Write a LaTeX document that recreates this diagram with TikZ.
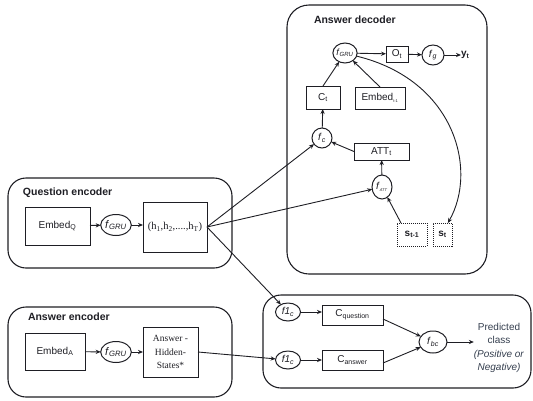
\documentclass[tikz,border=0pt]{standalone}
\usepackage{fontspec}
\setmainfont{Liberation Sans}
\newfontfamily\serifface{Liberation Serif}
\usetikzlibrary{shapes.geometric,arrows.meta}
\definecolor{ink}{RGB}{30,30,36}
\definecolor{slate}{RGB}{52,62,78}

\begin{document}
\begin{tikzpicture}[x=1pt,y=-1pt,
  every node/.style={inner sep=0pt, outer sep=0pt, text=ink,
    font=\fontsize{10}{12}\selectfont},
  frame/.style={draw=ink, rounded corners=18pt, line width=1.1pt},
  title/.style={anchor=west, font=\fontsize{10.5}{12}\selectfont\bfseries},
  sbox/.style 2 args={draw=ink, rectangle, line width=1pt,
    minimum width=#1, minimum height=#2},
  dbox/.style 2 args={draw=ink, rectangle, dash pattern=on 1pt off 1pt,
    line width=1pt, minimum width=#1, minimum height=#2},
  fun/.style 2 args={draw=ink, ellipse, line width=1pt,
    minimum width=#1, minimum height=#2},
  conn/.style={draw=ink, line width=0.9pt, -{Stealth[length=5pt,width=4.2pt]}},
  serif/.style={font=\serifface\fontsize{10.5}{13.5}\selectfont, align=center}
]
\useasboundingbox (0,0) rectangle (533,400);

% ---------- Answer decoder ----------
\draw[frame, rounded corners=22pt] (287,5) rectangle (487,274);
\node[title] (dtitle) at (314,20) {Answer decoder};

\node[fun={22pt}{20pt}] (dgru) at (345,53)
  {\fontsize{9}{10}\selectfont\textit{f}\textsubscript{\textit{GRU}}};
\node[sbox={22pt}{16pt}] (ot) at (397,54) {O\textsubscript{t}};
\node[fun={22pt}{20pt}] (fg) at (433,55) {\textit{f}\textsubscript{\textit{g}}};
\node[anchor=west, font=\fontsize{10}{12}\selectfont\bfseries] (yt) at (461,55)
  {y\textsubscript{t}};

\node[sbox={34pt}{23pt}] (ct) at (323,97.5) {C\textsubscript{t}};
\node[sbox={50pt}{22pt}] (emb) at (380,98)
  {Embed\textsubscript{\fontsize{4}{4}\selectfont t-1}};

\node[fun={20pt}{20pt}] (fc) at (322,138) {\textit{f}\textsubscript{\textit{c}}};
\node[sbox={55pt}{17pt}] (att) at (381.5,151.5) {ATT\textsubscript{t}};
\node[fun={20pt}{24pt}] (fatt) at (382,187)
  {\textit{f}\textsubscript{\fontsize{4}{4}\selectfont\textit{ATT}}};

\node[dbox={30pt}{23pt}, font=\fontsize{10}{12}\selectfont\bfseries] (stm) at (412,234.5)
  {s\textsubscript{t-1}};
\node[dbox={19pt}{23pt}, font=\fontsize{10}{12}\selectfont\bfseries] (st) at (442.5,234.5)
  {s\textsubscript{t}};

\draw[conn] (dgru) -- (ot);
\draw[conn] (ot) -- (fg);
\draw[conn] (fg) -- (yt);
\draw[conn] (ct.north) -- (dgru);
\draw[conn] (emb.north) -- (dgru);
\draw[conn] (fc) -- (ct);
\draw[conn] (att.west) -- (fc);
\draw[conn] (fatt) -- (att);
\draw[conn] (stm.north west) ++(4,0) coordinate (stmtop) (stmtop) -- (fatt);
\draw[conn] (dgru.-15) .. controls (455,80) and (478,170) .. (st.65);

% ---------- Question encoder ----------
\draw[frame] (8,178) rectangle (232,268);
\node[title] (qtitle) at (23,193) {Question encoder};
\node[sbox={65pt}{38pt}] (embq) at (57.5,226) {Embed\textsubscript{Q}};
\node[fun={29pt}{21pt}] (qgru) at (116,225)
  {\fontsize{11}{12}\selectfont\textit{f}\textsubscript{\textit{GRU}}};
\node[sbox={64pt}{50pt}] (hq) at (175,227) {};
\node[serif] (htext) at (hq) {(h\textsubscript{1},h\textsubscript{2},....,h\textsubscript{T})};
\draw[conn] (embq) -- (qgru);
\draw[conn] (qgru.east) -- (qgru.east -| hq.west);

% ---------- Answer encoder ----------
\draw[frame] (8,307) rectangle (232,397);
\node[title] (atitle) at (28,317) {Answer encoder};
\node[sbox={60pt}{37pt}] (emba) at (55,351.5) {Embed\textsubscript{A}};
\node[fun={29pt}{21pt}] (agru) at (116,352)
  {\fontsize{11}{12}\selectfont\textit{f}\textsubscript{\textit{GRU}}};
\node[sbox={55pt}{50pt}, serif, font=\serifface\fontsize{9.5}{13.5}\selectfont] (ha) at (170.5,352)
  {Answer -\\Hidden-\\States*};
\draw[conn] (emba) -- (agru);
\draw[conn] (agru) -- (ha);

% ---------- Classifier ----------
\draw[frame] (263,295) rectangle (531,388);
\node[fun={25pt}{18pt}] (qf1) at (288,312) {\textit{f1}\textsubscript{\textit{c}}};
\node[fun={25pt}{18pt}] (af1) at (288,360) {\textit{f1}\textsubscript{\textit{c}}};
\node[sbox={61pt}{20pt}] (cq) at (352.5,315) {C\textsubscript{question}};
\node[sbox={61pt}{20pt}] (ca) at (352.5,360) {C\textsubscript{answer}};
\node[fun={28pt}{22pt}] (fbc) at (433,342) {\textit{f}\textsubscript{\textit{bc}}};
\node[align=center, text=slate, font=\fontsize{10}{13.5}\selectfont] (pred) at (499,348)
  {Predicted\\class\\\textit{(Positive or}\\\textit{Negative)}};

\draw[conn] (qf1.east) -- (qf1.east -| cq.west);
\draw[conn] (af1.east) -- (af1.east -| ca.west);
\draw[conn] (cq.east) ++(0,4) coordinate (cqout) (cqout) -- (fbc);
\draw[conn] (ca.east) ++(0,3) coordinate (caout) (caout) -- (fbc);
\draw[conn] (fbc.east) -- (fbc.east -| pred.west);

% ---------- links between the encoders and the other blocks ----------
\draw[conn] (hq.east) -- (fc);
\draw[conn] (hq.east) -- (fatt);
\draw[conn] (hq.east) -- (qf1);
\draw[conn] (ha.east) -- (af1);
\end{tikzpicture}
\end{document}
